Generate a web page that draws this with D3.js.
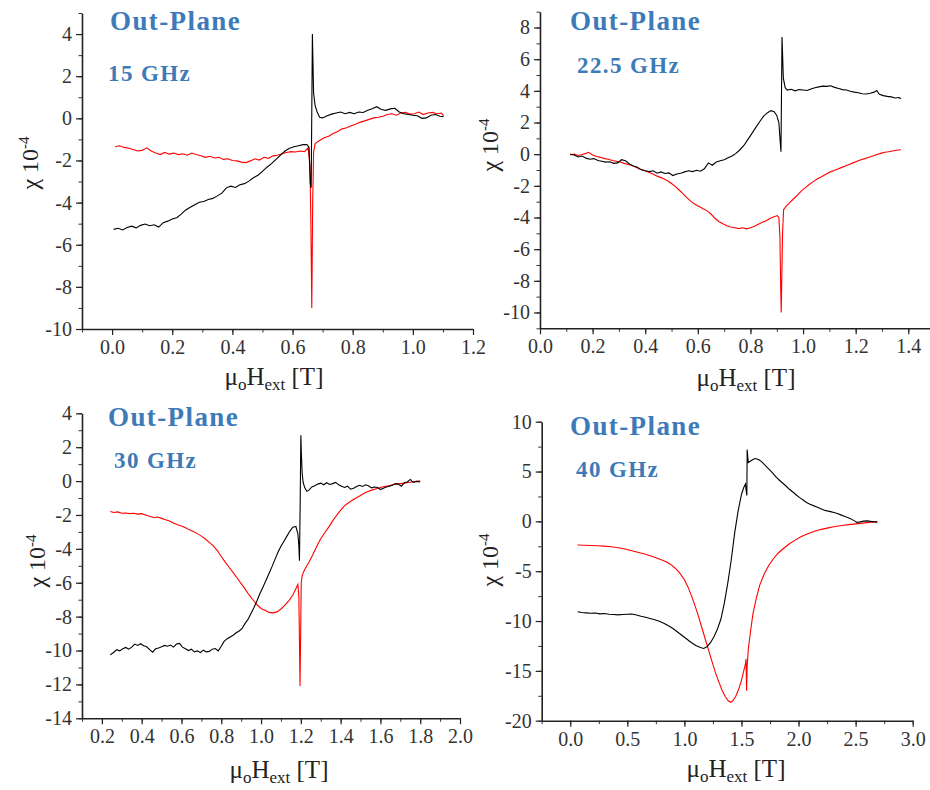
<!DOCTYPE html>
<html>
<head>
<meta charset="utf-8">
<script src="https://cdn.jsdelivr.net/npm/d3@7"></script>
<style>
  body { margin: 0; background: #fff; }
  svg { display: block; }
  .tick text { fill: #333; }
</style>
</head>
<body>
<div id="chart"></div>
<script>
// Out-Plane susceptibility, four frequencies

// panel texts
const freqLabels = ["15 GHz", "22.5 GHz", "30 GHz", "40 GHz"];

// x / y tick values (major)
const p1XTicks = [0, 0.2, 0.4, 0.6, 0.8, 1.0, 1.2];
const p1YTicks = [-10, -8, -6, -4, -2, 0, 2, 4];
const p2XTicks = [0, 0.2, 0.4, 0.6, 0.8, 1.0, 1.2, 1.4];
const p2YTicks = [-10, -8, -6, -4, -2, 0, 2, 4, 6, 8];
const p3XTicks = [0.2, 0.4, 0.6, 0.8, 1.0, 1.2, 1.4, 1.6, 1.8, 2.0];
const p3YTicks = [-14, -12, -10, -8, -6, -4, -2, 0, 2, 4];
const p4XTicks = [0, 0.5, 1.0, 1.5, 2.0, 2.5, 3.0];
const p4YTicks = [-20, -15, -10, -5, 0, 5, 10];

// 15 GHz
const p1Black = [[0.005,-5.27],[0.02,-5.22],[0.035,-5.30],[0.05,-5.18],[0.065,-5.12],[0.08,-5.20],[0.095,-5.08],[0.11,-5.02],[0.125,-5.10],[0.14,-5.05],[0.155,-5.16],[0.17,-4.95],[0.185,-4.88],[0.2,-4.78],[0.215,-4.72],[0.23,-4.55],[0.245,-4.35],[0.26,-4.22],[0.275,-4.10],[0.29,-3.98],[0.305,-3.95],[0.32,-3.85],[0.335,-3.80],[0.35,-3.68],[0.365,-3.55],[0.38,-3.30],[0.395,-3.22],[0.41,-3.28],[0.425,-3.15],[0.44,-3.10],[0.455,-2.98],[0.47,-2.82],[0.485,-2.70],[0.5,-2.52],[0.515,-2.32],[0.53,-2.15],[0.545,-1.95],[0.56,-1.75],[0.575,-1.55],[0.59,-1.42],[0.605,-1.35],[0.62,-1.30],[0.635,-1.25],[0.648,-1.24],[0.655,-1.38],[0.659,-3.1],[0.662,-3.3],[0.666,4.0],[0.670,1.2],[0.675,0.6],[0.682,0.3],[0.69,0.05],[0.70,0.02],[0.715,0.12],[0.73,0.20],[0.745,0.25],[0.76,0.30],[0.775,0.22],[0.79,0.28],[0.805,0.22],[0.82,0.30],[0.835,0.28],[0.85,0.38],[0.865,0.45],[0.88,0.55],[0.895,0.42],[0.91,0.38],[0.925,0.45],[0.94,0.48],[0.955,0.30],[0.97,0.22],[0.985,0.18],[1.0,0.15],[1.015,0.12],[1.03,0.0],[1.045,0.02],[1.06,0.15],[1.075,0.18],[1.09,0.10],[1.102,0.08]];
const p1Red = [[0.01,-1.35],[0.025,-1.30],[0.04,-1.38],[0.055,-1.42],[0.07,-1.48],[0.085,-1.55],[0.1,-1.52],[0.115,-1.40],[0.13,-1.55],[0.145,-1.65],[0.16,-1.72],[0.175,-1.62],[0.19,-1.70],[0.205,-1.65],[0.22,-1.72],[0.235,-1.68],[0.25,-1.75],[0.265,-1.65],[0.28,-1.72],[0.295,-1.78],[0.31,-1.85],[0.325,-1.80],[0.34,-1.88],[0.355,-1.85],[0.37,-1.95],[0.385,-1.92],[0.40,-2.00],[0.415,-2.02],[0.43,-2.08],[0.445,-2.10],[0.46,-2.02],[0.475,-1.92],[0.49,-1.98],[0.505,-1.85],[0.52,-1.90],[0.535,-1.78],[0.55,-1.75],[0.565,-1.68],[0.58,-1.62],[0.595,-1.58],[0.61,-1.60],[0.625,-1.55],[0.64,-1.58],[0.652,-1.40],[0.658,-2.3],[0.661,-5.0],[0.664,-9.0],[0.667,-4.0],[0.670,-1.6],[0.675,-1.20],[0.69,-1.05],[0.705,-0.92],[0.72,-0.85],[0.735,-0.72],[0.75,-0.62],[0.765,-0.50],[0.78,-0.45],[0.795,-0.35],[0.81,-0.28],[0.825,-0.18],[0.84,-0.12],[0.855,-0.05],[0.87,0.02],[0.885,0.05],[0.90,0.10],[0.915,0.18],[0.93,0.22],[0.945,0.15],[0.96,0.25],[0.975,0.28],[0.99,0.20],[1.005,0.22],[1.02,0.30],[1.035,0.18],[1.05,0.25],[1.065,0.28],[1.08,0.22],[1.095,0.25],[1.102,0.12]];

// 22.5 GHz
const p2Black = [[0.114,0.0],[0.13,-0.05],[0.145,-0.18],[0.16,-0.12],[0.175,-0.25],[0.19,-0.32],[0.205,-0.28],[0.22,-0.40],[0.235,-0.45],[0.25,-0.50],[0.265,-0.48],[0.28,-0.58],[0.295,-0.55],[0.31,-0.35],[0.325,-0.42],[0.34,-0.62],[0.355,-0.75],[0.37,-0.82],[0.385,-0.98],[0.40,-1.05],[0.415,-1.10],[0.43,-1.05],[0.445,-1.20],[0.46,-1.12],[0.475,-1.22],[0.49,-1.18],[0.505,-1.35],[0.52,-1.25],[0.535,-1.20],[0.55,-1.12],[0.565,-1.05],[0.58,-1.10],[0.595,-1.02],[0.61,-1.08],[0.625,-0.92],[0.64,-0.55],[0.655,-0.70],[0.67,-0.50],[0.685,-0.42],[0.70,-0.35],[0.715,-0.22],[0.73,-0.12],[0.745,0.05],[0.76,0.28],[0.775,0.55],[0.79,0.92],[0.805,1.30],[0.82,1.68],[0.835,2.05],[0.85,2.40],[0.865,2.62],[0.878,2.75],[0.89,2.68],[0.90,2.45],[0.908,2.0],[0.913,0.8],[0.916,0.15],[0.92,7.4],[0.925,4.8],[0.932,4.2],[0.94,4.05],[0.955,4.10],[0.97,4.00],[0.985,4.08],[1.0,4.05],[1.015,4.02],[1.03,4.12],[1.045,4.20],[1.06,4.25],[1.075,4.30],[1.09,4.28],[1.105,4.32],[1.12,4.22],[1.135,4.15],[1.15,4.08],[1.165,4.05],[1.18,3.98],[1.195,3.92],[1.21,3.88],[1.225,3.82],[1.24,3.80],[1.255,3.85],[1.27,3.92],[1.28,4.02],[1.29,3.78],[1.305,3.70],[1.32,3.65],[1.335,3.62],[1.35,3.55],[1.365,3.58],[1.372,3.50]];
const p2Red = [[0.114,-0.04],[0.13,0.0],[0.145,-0.08],[0.16,-0.02],[0.175,0.05],[0.185,0.12],[0.20,-0.05],[0.215,-0.15],[0.23,-0.20],[0.245,-0.28],[0.26,-0.32],[0.275,-0.40],[0.29,-0.45],[0.305,-0.50],[0.32,-0.58],[0.335,-0.65],[0.35,-0.72],[0.365,-0.82],[0.38,-0.95],[0.395,-1.02],[0.41,-1.12],[0.425,-1.22],[0.44,-1.35],[0.455,-1.45],[0.47,-1.55],[0.485,-1.68],[0.50,-1.85],[0.515,-2.05],[0.53,-2.28],[0.545,-2.52],[0.56,-2.78],[0.575,-3.00],[0.59,-3.18],[0.605,-3.30],[0.62,-3.45],[0.635,-3.58],[0.65,-3.78],[0.665,-4.05],[0.68,-4.25],[0.695,-4.40],[0.71,-4.52],[0.725,-4.60],[0.74,-4.65],[0.755,-4.70],[0.77,-4.65],[0.785,-4.72],[0.80,-4.65],[0.815,-4.55],[0.83,-4.42],[0.845,-4.30],[0.86,-4.20],[0.875,-4.05],[0.89,-3.95],[0.902,-3.88],[0.908,-4.0],[0.912,-5.2],[0.915,-8.5],[0.917,-10.0],[0.919,-8.0],[0.922,-5.0],[0.926,-3.5],[0.935,-3.30],[0.95,-3.05],[0.965,-2.80],[0.98,-2.55],[0.995,-2.30],[1.01,-2.10],[1.025,-1.90],[1.04,-1.72],[1.055,-1.55],[1.07,-1.42],[1.085,-1.28],[1.10,-1.15],[1.115,-1.05],[1.13,-0.95],[1.145,-0.85],[1.16,-0.75],[1.175,-0.65],[1.19,-0.55],[1.205,-0.45],[1.22,-0.35],[1.235,-0.28],[1.25,-0.20],[1.265,-0.12],[1.28,-0.02],[1.295,0.05],[1.31,0.12],[1.325,0.15],[1.34,0.20],[1.355,0.25],[1.372,0.28]];

// 30 GHz
const p3Black = [[0.242,-10.26],[0.26,-10.10],[0.275,-9.95],[0.29,-10.02],[0.305,-9.90],[0.32,-9.82],[0.335,-9.92],[0.35,-9.80],[0.365,-9.62],[0.38,-9.70],[0.395,-9.60],[0.41,-9.72],[0.425,-9.78],[0.44,-9.95],[0.455,-10.10],[0.47,-9.90],[0.485,-9.85],[0.50,-9.78],[0.515,-9.70],[0.53,-9.75],[0.545,-9.68],[0.56,-9.80],[0.575,-9.62],[0.59,-9.58],[0.605,-9.80],[0.62,-9.90],[0.635,-10.00],[0.65,-9.92],[0.665,-10.08],[0.68,-10.02],[0.695,-10.12],[0.71,-9.98],[0.725,-10.08],[0.74,-10.05],[0.755,-9.92],[0.77,-9.88],[0.785,-10.02],[0.80,-9.75],[0.815,-9.45],[0.83,-9.30],[0.845,-9.20],[0.86,-9.10],[0.875,-8.95],[0.89,-8.85],[0.905,-8.70],[0.92,-8.40],[0.935,-8.15],[0.95,-7.80],[0.965,-7.45],[0.98,-7.05],[0.995,-6.62],[1.01,-6.25],[1.025,-5.85],[1.04,-5.45],[1.055,-5.05],[1.07,-4.62],[1.085,-4.20],[1.10,-3.85],[1.115,-3.55],[1.13,-3.25],[1.145,-2.95],[1.16,-2.72],[1.175,-2.68],[1.185,-3.1],[1.19,-3.8],[1.193,-4.7],[1.197,-1.0],[1.200,2.7],[1.203,1.5],[1.207,0.4],[1.212,-0.1],[1.22,-0.40],[1.23,-0.60],[1.24,-0.55],[1.255,-0.35],[1.27,-0.28],[1.285,-0.18],[1.30,-0.12],[1.315,-0.22],[1.33,-0.10],[1.345,-0.20],[1.36,-0.15],[1.375,-0.08],[1.39,-0.22],[1.405,-0.30],[1.42,-0.38],[1.435,-0.30],[1.45,-0.48],[1.465,-0.42],[1.48,-0.32],[1.495,-0.25],[1.51,-0.32],[1.525,-0.22],[1.54,-0.28],[1.555,-0.40],[1.57,-0.35],[1.585,-0.38],[1.60,-0.50],[1.615,-0.42],[1.63,-0.35],[1.645,-0.30],[1.66,-0.25],[1.675,-0.15],[1.69,-0.18],[1.705,-0.30],[1.72,-0.10],[1.735,-0.05],[1.75,0.10],[1.765,-0.08],[1.78,-0.02],[1.80,-0.05]];
const p3Red = [[0.242,-1.80],[0.26,-1.85],[0.28,-1.82],[0.30,-1.90],[0.32,-1.88],[0.34,-1.92],[0.36,-1.90],[0.38,-1.95],[0.40,-1.92],[0.42,-2.00],[0.44,-2.08],[0.46,-2.15],[0.48,-2.12],[0.50,-2.20],[0.52,-2.28],[0.54,-2.35],[0.56,-2.48],[0.58,-2.58],[0.60,-2.65],[0.62,-2.75],[0.64,-2.88],[0.66,-2.98],[0.68,-3.10],[0.70,-3.25],[0.72,-3.42],[0.74,-3.62],[0.76,-3.82],[0.78,-4.10],[0.80,-4.45],[0.82,-4.78],[0.84,-5.10],[0.86,-5.40],[0.88,-5.72],[0.90,-6.05],[0.92,-6.38],[0.94,-6.72],[0.96,-7.02],[0.98,-7.30],[1.00,-7.52],[1.02,-7.62],[1.04,-7.75],[1.06,-7.78],[1.08,-7.72],[1.10,-7.55],[1.12,-7.32],[1.14,-7.05],[1.16,-6.72],[1.175,-6.35],[1.185,-6.10],[1.19,-6.8],[1.193,-9.5],[1.196,-12.1],[1.199,-9.0],[1.202,-6.0],[1.207,-5.55],[1.22,-5.20],[1.24,-4.80],[1.26,-4.35],[1.28,-3.85],[1.30,-3.40],[1.32,-3.05],[1.34,-2.72],[1.36,-2.35],[1.38,-2.02],[1.40,-1.72],[1.42,-1.45],[1.44,-1.28],[1.46,-1.12],[1.48,-0.98],[1.50,-0.85],[1.52,-0.70],[1.54,-0.60],[1.56,-0.52],[1.58,-0.45],[1.60,-0.38],[1.62,-0.32],[1.64,-0.28],[1.66,-0.22],[1.68,-0.18],[1.70,-0.15],[1.72,-0.12],[1.74,-0.08],[1.76,-0.05],[1.78,-0.02],[1.80,0.02]];

// 40 GHz
const p4Black = [[0.064,-9.06],[0.10,-9.15],[0.14,-9.18],[0.18,-9.22],[0.22,-9.20],[0.26,-9.28],[0.30,-9.25],[0.34,-9.32],[0.38,-9.35],[0.42,-9.38],[0.46,-9.35],[0.50,-9.32],[0.54,-9.30],[0.58,-9.40],[0.62,-9.52],[0.66,-9.62],[0.70,-9.75],[0.74,-9.88],[0.78,-10.02],[0.82,-10.22],[0.86,-10.48],[0.90,-10.75],[0.94,-11.10],[0.98,-11.45],[1.02,-11.80],[1.06,-12.15],[1.10,-12.45],[1.14,-12.65],[1.17,-12.75],[1.20,-12.55],[1.23,-12.15],[1.26,-11.55],[1.29,-10.80],[1.32,-9.80],[1.35,-8.20],[1.38,-6.20],[1.41,-3.90],[1.44,-1.20],[1.47,1.00],[1.50,2.70],[1.52,3.40],[1.535,3.75],[1.542,3.0],[1.547,2.6],[1.550,7.2],[1.555,6.5],[1.56,5.9],[1.58,6.05],[1.60,6.20],[1.62,6.30],[1.65,6.20],[1.68,5.95],[1.71,5.60],[1.74,5.25],[1.77,4.90],[1.80,4.50],[1.83,4.15],[1.86,3.85],[1.89,3.55],[1.92,3.22],[1.95,2.95],[1.98,2.65],[2.01,2.38],[2.04,2.15],[2.07,1.90],[2.10,1.72],[2.13,1.58],[2.16,1.45],[2.19,1.30],[2.22,1.15],[2.25,1.05],[2.28,0.98],[2.31,0.88],[2.34,0.78],[2.37,0.65],[2.40,0.52],[2.43,0.38],[2.46,0.25],[2.49,0.05],[2.51,-0.10],[2.54,-0.05],[2.57,0.02],[2.60,0.05],[2.63,0.0],[2.66,-0.05],[2.69,-0.08]];
const p4Red = [[0.064,-2.37],[0.12,-2.40],[0.18,-2.42],[0.24,-2.44],[0.30,-2.48],[0.36,-2.55],[0.42,-2.64],[0.48,-2.78],[0.54,-2.95],[0.60,-3.12],[0.66,-3.30],[0.72,-3.52],[0.78,-3.78],[0.84,-4.05],[0.88,-4.32],[0.92,-4.70],[0.96,-5.20],[1.00,-5.85],[1.03,-6.55],[1.06,-7.40],[1.09,-8.35],[1.12,-9.40],[1.15,-10.55],[1.18,-11.70],[1.21,-12.85],[1.24,-14.00],[1.27,-15.10],[1.30,-16.05],[1.33,-16.95],[1.36,-17.62],[1.385,-18.00],[1.405,-18.15],[1.425,-18.00],[1.45,-17.55],[1.475,-16.85],[1.50,-15.95],[1.52,-15.00],[1.535,-14.30],[1.540,-13.80],[1.545,-17.0],[1.550,-14.5],[1.56,-12.8],[1.58,-11.0],[1.60,-9.30],[1.63,-7.70],[1.66,-6.40],[1.70,-5.25],[1.74,-4.40],[1.78,-3.75],[1.82,-3.20],[1.87,-2.70],[1.92,-2.25],[1.97,-1.88],[2.02,-1.55],[2.08,-1.25],[2.14,-1.00],[2.20,-0.80],[2.26,-0.65],[2.32,-0.52],[2.38,-0.42],[2.44,-0.33],[2.50,-0.25],[2.56,-0.18],[2.62,-0.10],[2.69,-0.03]];

const colorBlack = "#000000";
const colorRed = "#ff0000";
const colorTitle = "#3d7ab8";
const serif = "'Liberation Serif'";

// panel geometry
const panels = [
  {left: 82, right: 473, top: 13, bottom: 329, xDom: [-0.1, 1.2], yDom: [-10, 5], xMaj: p1XTicks, xMin: 0.1, yMaj: p1YTicks, yMin: 1,
   black: p1Black, red: p1Red, freq: freqLabels[0], tx: 110, ty1: 30, ty2: 81, fx: 108, ylx: 30, yly: 163, xlx: 274, xly: 385},
  {left: 540, right: 934.6, top: 11.7, bottom: 328.3, xDom: [0, 1.5], yDom: [-11, 9], xMaj: p2XTicks, xMin: 0.1, yMaj: p2YTicks, yMin: 1,
   black: p2Black, red: p2Red, freq: freqLabels[1], tx: 570, ty1: 30, ty2: 73, fx: 577, ylx: 490, yly: 145, xlx: 746, xly: 386},
  {left: 82, right: 460, top: 413.3, bottom: 718.3, xDom: [0.1, 2.0], yDom: [-14, 4], xMaj: p3XTicks, xMin: 0.1, yMaj: p3YTicks, yMin: 1,
   black: p3Black, red: p3Red, freq: freqLabels[2], tx: 108, ty1: 426, ty2: 468, fx: 114, ylx: 37, yly: 561, xlx: 279, xly: 778},
  {left: 541.7, right: 912.7, top: 421.7, bottom: 720.7, xDom: [-0.25, 3.0], yDom: [-20, 10], xMaj: p4XTicks, xMin: 0.25, yMaj: p4YTicks, yMin: 2.5,
   black: p4Black, red: p4Red, freq: freqLabels[3], tx: 570, ty1: 435, ty2: 477, fx: 576, ylx: 490, yly: 560, xlx: 736, xly: 777}
];

const svg = d3.select("#chart").append("svg")
  .attr("width", 930)
  .attr("height", 790);

svg.append("rect").attr("width", "100%").attr("height", "100%").attr("fill", "#fff");

function minorTicks(dom, step) {
  const out = [];
  const start = Math.ceil(dom[0] / step - 1e-9);
  const end = Math.floor(dom[1] / step + 1e-9);
  for (let i = start; i <= end; i++) out.push(+(i * step).toFixed(4));
  return out;
}

panels.forEach(p => {
  const x = d3.scaleLinear().domain(p.xDom).range([p.left, p.right]);
  const y = d3.scaleLinear().domain(p.yDom).range([p.bottom, p.top]);
  const g = svg.append("g");

  // minor ticks
  g.append("g")
    .attr("transform", `translate(0,${p.bottom})`)
    .call(d3.axisBottom(x).tickValues(minorTicks(p.xDom, p.xMin)).tickSize(3.5).tickFormat(""))
    .call(a => a.select(".domain").remove())
    .selectAll("line").attr("stroke", "#333").attr("stroke-width", 1);
  g.append("g")
    .attr("transform", `translate(${p.left},0)`)
    .call(d3.axisLeft(y).tickValues(minorTicks(p.yDom, p.yMin)).tickSize(3.5).tickFormat(""))
    .call(a => a.select(".domain").remove())
    .selectAll("line").attr("stroke", "#333").attr("stroke-width", 1);

  // major ticks
  const xa = g.append("g")
    .attr("transform", `translate(0,${p.bottom})`)
    .call(d3.axisBottom(x).tickValues(p.xMaj).tickSize(6).tickSizeOuter(0).tickPadding(5).tickFormat(d3.format(".1f")));
  const ya = g.append("g")
    .attr("transform", `translate(${p.left},0)`)
    .call(d3.axisLeft(y).tickValues(p.yMaj).tickSize(6).tickSizeOuter(0).tickPadding(4).tickFormat(d => String(d)));
  [xa, ya].forEach(a => {
    a.attr("font-family", serif);
    a.select(".domain").attr("stroke", "#222").attr("stroke-width", 1.6);
    a.selectAll(".tick line").attr("stroke", "#222").attr("stroke-width", 1.2);
    a.selectAll(".tick text").style("font-family", serif).style("font-size", "20px");
  });

  // curves
  const line = d3.line().x(d => x(d[0])).y(d => y(d[1]));
  g.append("path").datum(p.red)
    .attr("d", line).attr("fill", "none").attr("stroke", colorRed).attr("stroke-width", 1.1);
  g.append("path").datum(p.black)
    .attr("d", line).attr("fill", "none").attr("stroke", colorBlack).attr("stroke-width", 1.1);

  // titles
  g.append("text")
    .attr("x", p.tx).attr("y", p.ty1)
    .style("font-family", serif).style("font-weight", "bold").style("font-size", "27px")
    .style("letter-spacing", "1.4px")
    .attr("fill", colorTitle).text("Out-Plane");
  g.append("text")
    .attr("x", p.fx).attr("y", p.ty2)
    .style("font-family", serif).style("font-weight", "bold").style("font-size", "23px")
    .style("letter-spacing", "1.4px")
    .attr("fill", colorTitle).text(p.freq);

  // axis labels
  const xl = g.append("text")
    .attr("x", p.xlx).attr("y", p.xly)
    .style("font-family", serif).style("font-size", "25px")
    .attr("fill", "#222").style("text-anchor", "middle");
  xl.append("tspan").text("\u03bc");
  xl.append("tspan").attr("dy", 5).style("font-size", "17px").text("o");
  xl.append("tspan").attr("dy", -5).text("H");
  xl.append("tspan").attr("dy", 5).style("font-size", "17px").text("ext");
  xl.append("tspan").attr("dy", -5).text(" [T]");

  const yl = g.append("text")
    .attr("transform", `translate(${p.ylx},${p.yly}) rotate(-90)`)
    .attr("dy", "0.35em")
    .style("font-family", serif).style("font-size", "24px")
    .attr("fill", "#222").style("text-anchor", "middle");
  yl.append("tspan").text("\u03c7 10");
  yl.append("tspan").attr("dy", -9).style("font-size", "15px").text("-4");
});
</script>
</body>
</html>
